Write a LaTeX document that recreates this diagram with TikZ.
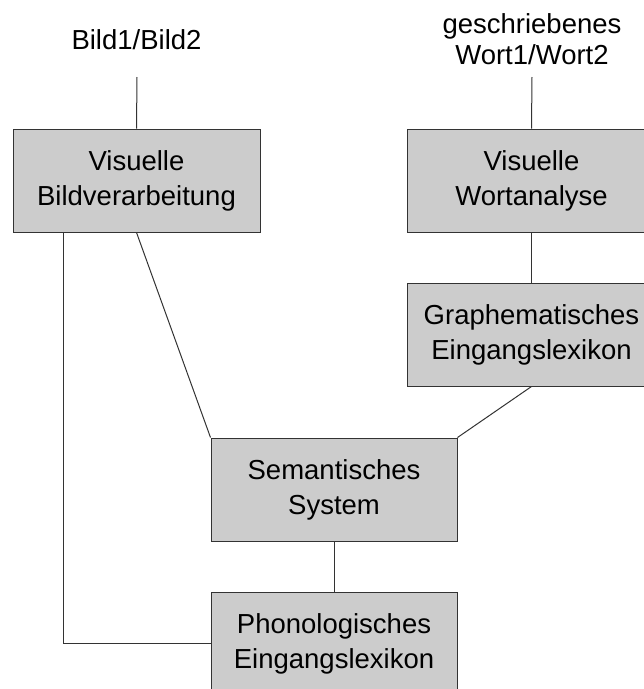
\documentclass[tikz,border=0pt]{standalone}
\usepackage{fontspec}
\setmainfont{Liberation Sans}
\definecolor{boxfill}{HTML}{CCCCCC}
\definecolor{linecol}{HTML}{333333}
\begin{document}
\begin{tikzpicture}[x=1pt,y=-1pt,
  txt/.style={font=\fontsize{27.5}{35}\selectfont, align=center, text=black},
  stagebox/.style={txt, draw=linecol, fill=boxfill, line width=1pt,
    minimum height=103pt, inner sep=0pt},
  conn/.style={draw=linecol, line width=1pt}]
\useasboundingbox (0,0) rectangle (644,689);
\clip (0,0) rectangle (644,689);
% labels
\node[txt, anchor=base, inner sep=0pt] (lbild) at (136.5,49) {Bild1/Bild2};
\node[txt, font=\fontsize{27.5}{31}\selectfont, inner sep=0pt] (lwort) at (532,39) {geschriebenes\\Wort1/Wort2};
\coordinate (c1) at (137,77);
\coordinate (c2) at (532,77);
% boxes
\node[stagebox, minimum width=247pt] (bild) at (136.5,180.5) {Visuelle\\Bildverarbeitung};
\node[stagebox, minimum width=248pt] (wort) at (531.5,180.5) {Visuelle\\Wortanalyse};
\node[stagebox, minimum width=248pt] (graph) at (531.5,334.5) {Graphematisches\\Eingangslexikon};
\node[stagebox, minimum width=246pt] (sem) at (334,489.5) {Semantisches\\System};
\node[stagebox, minimum width=246pt] (phon) at (334,643.5) {Phonologisches\\Eingangslexikon};
\coordinate (lx) at (63,232);
% connectors
\draw[conn] (c1) -- (bild.north);
\draw[conn] (c2) -- (wort.north);
\draw[conn] (wort.south) -- (graph.north);
\draw[conn] (bild.south) -- (sem.north west);
\draw[conn] (graph.south) -- (sem.north east);
\draw[conn] (sem.south) -- (phon.north);
\draw[conn] (lx) |- (phon.west);
\end{tikzpicture}
\end{document}
